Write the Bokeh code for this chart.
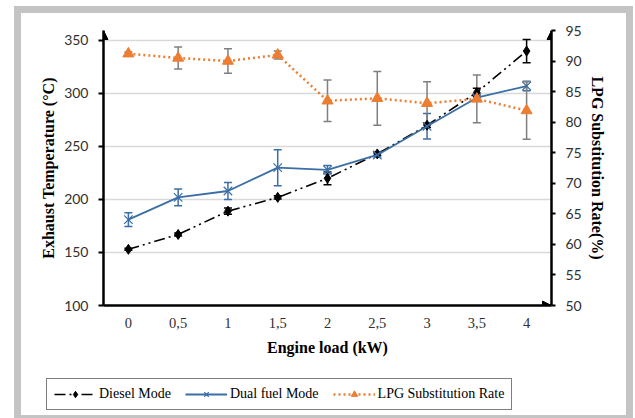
from bokeh.plotting import figure
from bokeh.layouts import column
from bokeh.models import (Range1d, LinearAxis, FixedTicker, Whisker, TeeHead, ColumnDataSource,
                          Arrow, NormalHead, Legend, LegendItem)
from bokeh.embed import file_html
from bokeh.resources import INLINE

# ---- data ----
load = [0, 0.5, 1, 1.5, 2, 2.5, 3, 3.5, 4]
load_labels = ["0", "0,5", "1", "1,5", "2", "2,5", "3", "3,5", "4"]
diesel = [153, 167, 189, 202, 220, 243, 270, 301, 340]
diesel_err = [1, 1.5, 3, 1.5, 6, 1.5, 2, 4, 11]
dual = [181, 202, 208, 230, 228, 242, 269, 296, 307]
dual_err = [6.5, 8, 8, 17, 4, 2, 12, 2, 4.5]
lpg = [91.2, 90.5, 90.0, 91.0, 83.5, 83.9, 83.1, 83.8, 81.9]
lpg_err = [0.3, 1.8, 2.0, 0.65, 3.4, 4.4, 3.5, 3.9, 4.7]
temp_ticks = [100, 150, 200, 250, 300, 350]
lpg_ticks = [50, 55, 60, 65, 70, 75, 80, 85, 90, 95]
series_names = ["Diesel Mode", "Dual fuel Mode", "LPG Substitution Rate"]

BLUE = "#3b6ea5"
ORANGE = "#ed7d31"
GRID = "#d9d9d9"
TICKC = "#303030"
FRAME = "#c4c4c4"

src = ColumnDataSource(dict(
    x=load, diesel=diesel, dual=dual, lpg=lpg,
    d_lo=[v - e for v, e in zip(diesel, diesel_err)], d_hi=[v + e for v, e in zip(diesel, diesel_err)],
    u_lo=[v - e for v, e in zip(dual, dual_err)], u_hi=[v + e for v, e in zip(dual, dual_err)],
    l_lo=[v - e for v, e in zip(lpg, lpg_err)], l_hi=[v + e for v, e in zip(lpg, lpg_err)],
))

p = figure(width=635, height=365, output_backend="svg", toolbar_location=None,
           x_range=Range1d(-0.25, 4.25), y_range=Range1d(100, 359.4),
           min_border_left=103, min_border_right=84, min_border_top=30, min_border_bottom=60)
p.frame_align = False
p.extra_y_ranges = {"lpg": Range1d(50, 95)}
p.outline_line_color = None
p.background_fill_color = "white"
p.border_fill_color = None

# axes
p.xaxis.ticker = FixedTicker(ticks=load)
p.xaxis.major_label_overrides = {float(k): lab for k, lab in zip(load, load_labels)}
p.xaxis.major_tick_out = 0
p.xaxis.major_tick_in = 0
p.xaxis.minor_tick_line_color = None
p.xaxis.axis_line_width = 2.5
p.xaxis.axis_line_color = "black"
p.xaxis.major_label_text_font = "Liberation Serif"
p.xaxis.major_label_text_font_size = "14.5px"
p.xaxis.major_label_text_color = TICKC
p.xaxis.major_label_standoff = 12
p.xaxis.axis_label = "Engine load (kW)"
p.xaxis.axis_label_text_font = "Liberation Serif"
p.xaxis.axis_label_text_font_style = "bold"
p.xaxis.axis_label_text_font_size = "16px"
p.xaxis.axis_label_text_color = "black"
p.xaxis.axis_label_standoff = 8

p.yaxis.ticker = FixedTicker(ticks=temp_ticks)
p.yaxis.major_tick_out = 5
p.yaxis.major_tick_in = 0
p.yaxis.major_tick_line_width = 2
p.yaxis.minor_tick_line_color = None
p.yaxis.axis_line_width = 2.5
p.yaxis.axis_line_color = "black"
p.yaxis.major_label_text_font = "Lato"
p.yaxis.major_label_text_font_size = "14px"
p.yaxis.major_label_text_color = TICKC
p.yaxis.major_label_standoff = 10
p.yaxis.axis_label = "Exhaust Temperature (°C)"
p.yaxis.axis_label_text_font = "Liberation Serif"
p.yaxis.axis_label_text_font_style = "bold"
p.yaxis.axis_label_text_font_size = "16px"
p.yaxis.axis_label_text_color = "black"
p.yaxis.axis_label_standoff = 4

ax2 = LinearAxis(y_range_name="lpg", ticker=FixedTicker(ticks=lpg_ticks),
                 axis_label="LPG Substitution Rate(%)")
ax2.major_tick_out = 4
ax2.major_tick_in = 0
ax2.major_tick_line_width = 2
ax2.minor_tick_line_color = None
ax2.axis_line_width = 2.5
ax2.axis_line_color = "black"
ax2.major_label_text_font = "Lato"
ax2.major_label_text_font_size = "14px"
ax2.major_label_text_color = TICKC
ax2.major_label_standoff = 10
ax2.axis_label_text_font = "Liberation Serif"
ax2.axis_label_text_font_style = "bold"
ax2.axis_label_text_font_size = "16px"
ax2.axis_label_text_color = "black"
ax2.axis_label_standoff = 4
p.add_layout(ax2, "right")

p.xgrid.visible = False
p.ygrid.ticker = FixedTicker(ticks=temp_ticks[1:])
p.ygrid.grid_line_color = GRID
p.ygrid.grid_line_width = 1.5

# series styles
D_LINE = dict(line_color="black", line_width=1.6, line_dash="11 4 2 4 2 4")
D_PTS = dict(marker="diamond", size=10, fill_color="black", line_color="black")
U_LINE = dict(line_color=BLUE, line_width=1.8)
U_PTS = dict(marker="x", size=12, line_color=BLUE, line_width=1.2)
L_LINE = dict(line_color=ORANGE, line_width=2.5, line_dash="2 3")
L_PTS = dict(marker="triangle", size=11, fill_color=ORANGE, line_color=ORANGE)

p.line("x", "diesel", source=src, **D_LINE)
p.scatter("x", "diesel", source=src, **D_PTS)
p.line("x", "dual", source=src, **U_LINE)
p.scatter("x", "dual", source=src, **U_PTS)
p.line("x", "lpg", source=src, y_range_name="lpg", **L_LINE)
p.scatter("x", "lpg", source=src, y_range_name="lpg", **L_PTS)

def whisk(lo, hi, color, rng="default"):
    w = Whisker(base="x", lower=lo, upper=hi, source=src, y_range_name=rng,
                line_color=color, line_width=1.5,
                upper_head=TeeHead(size=8, line_color=color, line_width=1.5),
                lower_head=TeeHead(size=8, line_color=color, line_width=1.5))
    p.add_layout(w)

whisk("d_lo", "d_hi", "black")
whisk("u_lo", "u_hi", BLUE)
whisk("l_lo", "l_hi", "#7f7f7f", "lpg")

# axis arrows
p.add_layout(Arrow(x_start=-0.25, y_start=352, x_end=-0.25, y_end=359.4, line_alpha=0,
                   end=NormalHead(size=9, fill_color="black", line_color="black")))
p.add_layout(Arrow(x_start=4.25, y_start=92, x_end=4.25, y_end=95, y_range_name="lpg", line_alpha=0,
                   end=NormalHead(size=9, fill_color="black", line_color="black")))
p.add_layout(Arrow(x_start=4.1, y_start=100, x_end=4.25, y_end=100, line_alpha=0,
                   end=NormalHead(size=9, fill_color="black", line_color="black")))

# legend strip (separate figure below the chart); its glyphs sit outside its ranges
q = figure(width=635, height=53, output_backend="svg", toolbar_location=None,
           x_range=Range1d(0, 1), y_range=Range1d(0, 1),
           x_axis_type=None, y_axis_type=None, min_border=0)
q.frame_align = False
q.outline_line_color = None
q.background_fill_color = None
q.border_fill_color = None
q.xgrid.visible = False
q.ygrid.visible = False
e = ColumnDataSource(dict(x=[5, 6], y=[5, 6]))
ql1 = q.line("x", "y", source=e, **D_LINE)
qs1 = q.scatter("x", "y", source=e, **D_PTS)
ql2 = q.line("x", "y", source=e, **U_LINE)
qs2 = q.scatter("x", "y", source=e, **U_PTS)
ql3 = q.line("x", "y", source=e, **L_LINE)
qs3 = q.scatter("x", "y", source=e, **L_PTS)

legend = Legend(items=[
    LegendItem(label=series_names[0], renderers=[ql1, qs1]),
    LegendItem(label=series_names[1], renderers=[ql2, qs2]),
    LegendItem(label=series_names[2], renderers=[ql3, qs3]),
], orientation="horizontal", location=(46, 8))
legend.label_text_font = "Liberation Serif"
legend.label_text_font_size = "14px"
legend.label_text_color = "black"
legend.glyph_width = 42
legend.glyph_height = 16
legend.label_height = 16
legend.label_standoff = 3
legend.spacing = 14
legend.padding = 7
legend.margin = 0
legend.border_line_color = "black"
legend.border_line_width = 1.3
legend.background_fill_color = "white"
legend.background_fill_alpha = 1
q.add_layout(legend, "center")

g = f"linear-gradient({FRAME},{FRAME})"
lay = column(p, q, spacing=0, width=635, height=418)
lay.styles = {
    "background": (f"{g} 14px 6px / 7px 420px no-repeat, "
                   f"{g} 626px 6px / 7px 420px no-repeat, "
                   f"{g} 14px 6px / 619px 7px no-repeat, "
                   f"{g} 14px 415px / 619px 7px no-repeat, white"),
}

open("out.html", "w").write(file_html(lay, INLINE))
